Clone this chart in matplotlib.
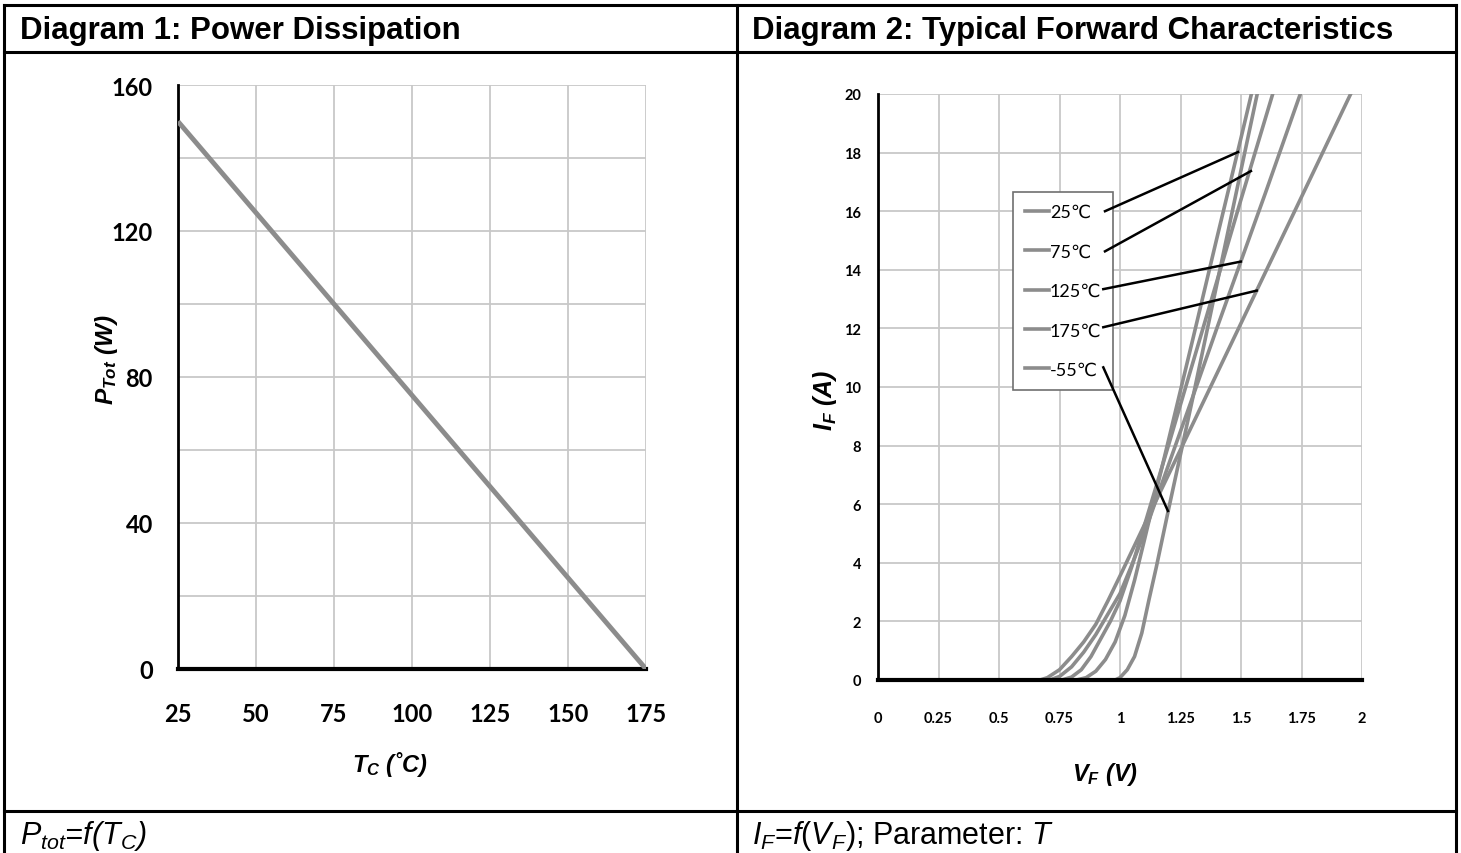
import matplotlib
matplotlib.use('Agg')
import matplotlib.pyplot as plt
from matplotlib.lines import Line2D
from matplotlib.font_manager import FontProperties

# Diagram 1: power dissipation
tc = [25, 175]
p_tot = [150, 0]
tc_ticks = [25, 50, 75, 100, 125, 150, 175]
p_ticks = [0, 40, 80, 120, 160]

# Diagram 2: forward characteristics, V_F (V) / I_F (A)
vf_25 = [0, 0.82, 0.86, 0.90, 0.94, 0.98, 1.02, 1.06, 1.10, 1.2, 1.3, 1.4, 1.5, 1.543]
if_25 = [0, 0, 0.08, 0.3, 0.7, 1.3, 2.2, 3.4, 4.75, 8.17, 11.6, 15.07, 18.5, 20]
vf_75 = [0, 0.76, 0.80, 0.84, 0.88, 0.92, 0.96, 1.0, 1.05, 1.1, 1.2, 1.3, 1.4, 1.5, 1.631]
if_75 = [0, 0, 0.1, 0.35, 0.8, 1.4, 2.0, 2.7, 3.9, 5.25, 8.0, 10.8, 13.6, 16.4, 20]
vf_125 = [0, 0.71, 0.75, 0.80, 0.85, 0.90, 0.95, 1.0, 1.05, 1.1, 1.2, 1.3, 1.4, 1.5, 1.6, 1.745]
if_125 = [0, 0, 0.12, 0.45, 0.95, 1.55, 2.25, 2.95, 3.95, 5.0, 7.33, 9.65, 12.0, 14.3, 16.6, 20]
vf_175 = [0, 0.67, 0.70, 0.75, 0.80, 0.85, 0.90, 0.95, 1.0, 1.1, 1.2, 1.4, 1.6, 1.8, 1.953]
if_175 = [0, 0, 0.08, 0.35, 0.8, 1.3, 1.9, 2.7, 3.55, 5.28, 7.0, 10.45, 13.9, 17.35, 20]
vf_m55 = [0, 0.98, 1.0, 1.03, 1.06, 1.09, 1.12, 1.15, 1.2, 1.3, 1.4, 1.5, 1.567]
if_m55 = [0, 0, 0.08, 0.35, 0.8, 1.6, 2.75, 3.85, 5.8, 9.6, 13.5, 17.4, 20]

labels = ['25℃', '75℃', '125℃', '175℃', '-55℃']
curves = [(vf_25, if_25), (vf_75, if_75), (vf_125, if_125), (vf_175, if_175), (vf_m55, if_m55)]

# leader lines: from legend entry to its curve (V, I)
leader_start = [(0.938, 16.0), (0.938, 14.63), (0.931, 13.34), (0.931, 12.04), (0.931, 10.67)]
leader_end = [(1.488, 18.02), (1.541, 17.37), (1.499, 14.28), (1.565, 13.29), (1.198, 5.77)]

vf_ticks = [0, 0.25, 0.5, 0.75, 1, 1.25, 1.5, 1.75, 2]
vf_ticklabels = ['0', '0.25', '0.5', '0.75', '1', '1.25', '1.5', '1.75', '2']
if_ticks = list(range(0, 21, 2))

plt.rcParams['font.family'] = ['Lato', 'DejaVu Sans']
plt.rcParams['mathtext.fontset'] = 'custom'
plt.rcParams['mathtext.rm'] = 'Liberation Sans'
plt.rcParams['mathtext.it'] = 'Liberation Sans:italic'
plt.rcParams['mathtext.bf'] = 'Liberation Sans:italic:bold'

W, H = 1461, 854
fig = plt.figure(figsize=(W / 100, H / 100), dpi=100)
grid_c = '#c8c8c8'
curve_c = '#8c8c8c'


def box(x0, y0, x1, y1):
    return [x0 / W, 1 - y1 / H, (x1 - x0) / W, (y1 - y0) / H]


def hline(y, x0, x1):
    fig.add_artist(Line2D([x0 / W, x1 / W], [1 - y / H, 1 - y / H], color='black', lw=2.2))


def vline(x, y0, y1):
    fig.add_artist(Line2D([x / W, x / W], [1 - y0 / H, 1 - y1 / H], color='black', lw=2.2))


# table frame
hline(6, 4, 1456)
hline(53, 4, 1456)
hline(812, 4, 1456)
vline(4, 6, 854)
vline(1456, 6, 854)
vline(737, 6, 854)

fig.text(20 / W, 1 - 31 / H, 'Diagram 1: Power Dissipation', family='Liberation Sans',
         fontsize=22.5, fontweight='bold', va='center')
fig.text(752 / W, 1 - 31 / H, 'Diagram 2: Typical Forward Characteristics', family='Liberation Sans',
         fontsize=22.5, fontweight='bold', va='center')
fig.text(20 / W, 1 - 836 / H, r'$P_{tot}$=$f$($T_C$)', family='Liberation Sans',
         style='italic', fontsize=22, va='center')
fig.text(752 / W, 1 - 836 / H, r'$I_F$=$f$($V_F$); Parameter: $T$', family='Liberation Sans',
         fontsize=22, va='center')

# ---- Diagram 1
ax1 = fig.add_axes(box(178, 86, 646, 670))
ax1.plot(tc, p_tot, color=curve_c, lw=3.5, solid_capstyle='butt', zorder=3)
ax1.set_xlim(25, 175)
ax1.set_ylim(0, 160)
ax1.set_xticks(tc_ticks)
ax1.set_yticks(p_ticks)
ax1.set_yticks(range(0, 161, 20), minor=True)
ax1.grid(True, which='both', color=grid_c, lw=1.3)
ax1.tick_params(which='both', length=0)
ax1.tick_params(axis='y', pad=18, labelsize=17)
ax1.tick_params(axis='x', pad=24, labelsize=17)
for lab in ax1.get_xticklabels() + ax1.get_yticklabels():
    lab.set_fontweight('bold')
for s in ['top', 'right']:
    ax1.spines[s].set_visible(False)
ax1.spines['left'].set_linewidth(2)
ax1.spines['bottom'].set_linewidth(3)
ax1.set_axisbelow(True)

fig.text(107 / W, 1 - 360 / H, r'$\mathbf{P_{Tot}}$ (W)', family='Liberation Sans', rotation=90,
         fontsize=17.5, fontweight='bold', style='italic', ha='center', va='center')
fig.text(390 / W, 1 - 765 / H, r'$\mathbf{T_C}$ (˚C)', family='Liberation Sans', fontsize=17,
         fontweight='bold', style='italic', ha='center', va='center')

# ---- Diagram 2
ax2 = fig.add_axes(box(878, 95, 1362, 681))
handles = []
for (v, i), lab in zip(curves, labels):
    h, = ax2.plot(v, i, color=curve_c, lw=2.6, label=lab, zorder=3)
    handles.append(h)
ax2.set_xlim(0, 2)
ax2.set_ylim(0, 20)
ax2.set_xticks(vf_ticks)
ax2.set_xticklabels(vf_ticklabels)
ax2.set_yticks(if_ticks)
ax2.grid(True, color=grid_c, lw=1.3)
ax2.tick_params(length=0)
ax2.tick_params(axis='y', pad=12, labelsize=10.5)
ax2.tick_params(axis='x', pad=22, labelsize=10.5)
for lab in ax2.get_xticklabels() + ax2.get_yticklabels():
    lab.set_fontweight('bold')
for s in ['top', 'right']:
    ax2.spines[s].set_visible(False)
ax2.spines['left'].set_linewidth(2)
ax2.spines['bottom'].set_linewidth(3)
ax2.spines['bottom'].set_zorder(4)
ax2.set_axisbelow(True)

leg = ax2.legend(handles=handles, loc='upper left', bbox_to_anchor=(0.557, 16.65),
                 bbox_transform=ax2.transData, borderaxespad=0, fancybox=False,
                 prop=FontProperties(family=['Lato', 'DejaVu Sans'], size=13),
                 handlelength=1.35, handletextpad=0.05, labelspacing=1.3,
                 borderpad=0.65, framealpha=1)
leg.get_frame().set_edgecolor('#707070')
leg.get_frame().set_linewidth(1.2)
leg.set_zorder(5)

for (x0, y0), (x1, y1) in zip(leader_start, leader_end):
    ax2.plot([x0, x1], [y0, y1], color='black', lw=1.8, zorder=6)

fig.text(825 / W, 1 - 400 / H, r'$\mathbf{I_F}$ (A)', family='Liberation Sans', rotation=90,
         fontsize=18, fontweight='bold', style='italic', ha='center', va='center')
fig.text(1105 / W, 1 - 775 / H, r'$\mathbf{V_F}$ (V)', family='Liberation Sans', fontsize=17,
         fontweight='bold', style='italic', ha='center', va='center')

fig.savefig('out.png', dpi=100)
